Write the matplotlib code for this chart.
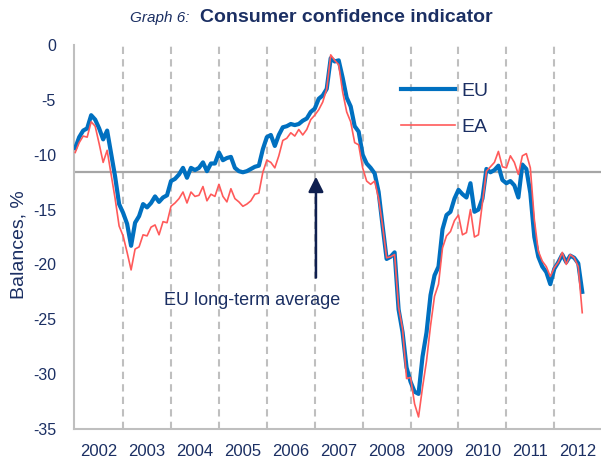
import numpy as np
import matplotlib
matplotlib.use("Agg")
import matplotlib.pyplot as plt

plt.rcParams['font.family'] = ['Liberation Sans', 'DejaVu Sans']
plt.rcParams['axes.unicode_minus'] = False

# monthly balances, Jan 2002 .. Aug 2012
years = ["2002", "2003", "2004", "2005", "2006", "2007",
         "2008", "2009", "2010", "2011", "2012"]

eu = [-9.4, -8.4, -7.8, -7.6, -6.4, -6.8, -7.6, -8.6, -7.8, -9.9, -12.0, -14.5,
      -15.3, -16.3, -18.3, -16.2, -15.6, -14.5, -14.8, -14.4, -13.8, -14.3, -13.9, -13.7,
      -12.4, -12.2, -11.8, -11.2, -12.1, -11.2, -11.4, -11.2, -10.7, -11.5, -10.8, -10.8,
      -9.8, -10.5, -10.3, -10.2, -11.2, -11.5, -11.6, -11.5, -11.3, -11.1, -11.0, -9.5,
      -8.4, -8.2, -9.2, -8.2, -7.5, -7.4, -7.2, -7.3, -7.2, -6.9, -6.7, -6.1,
      -5.8, -4.9, -4.6, -4.0, -1.2, -1.5, -1.4, -3.0, -4.8, -5.6, -7.4, -7.9,
      -10.0, -10.8, -11.2, -11.7, -13.4, -16.5, -19.5, -19.3, -18.9, -24.1, -26.2, -29.4,
      -30.7, -31.6, -31.8, -28.4, -26.2, -22.8, -21.0, -20.2, -16.8, -15.5, -15.2, -14.0,
      -13.2, -13.6, -13.9, -12.6, -15.2, -15.0, -14.0, -11.3, -11.6, -11.4, -11.0, -12.3,
      -12.6, -12.4, -12.8, -13.9, -10.9, -11.3, -13.5, -17.5, -19.3, -20.2, -20.7, -21.8,
      -20.4, -19.8, -19.1, -19.8, -19.2, -19.4, -19.9, -22.5]

ea = [-9.8, -8.9, -8.3, -8.4, -7.0, -7.4, -9.0, -10.7, -9.6, -11.8, -14.0, -16.5,
      -17.4, -18.9, -20.5, -18.6, -18.4, -17.3, -17.4, -16.6, -16.4, -17.3, -16.1, -16.2,
      -14.7, -14.4, -14.0, -13.4, -14.4, -13.4, -13.8, -13.7, -12.9, -14.2, -13.6, -13.8,
      -12.7, -13.8, -14.3, -13.1, -14.0, -14.3, -14.7, -14.5, -14.2, -13.6, -13.5, -11.6,
      -10.5, -10.7, -11.2, -10.1, -8.7, -8.5, -8.0, -8.3, -7.7, -8.2, -7.7, -6.8,
      -6.4, -5.9, -5.2, -4.0, -0.9, -1.4, -1.8, -4.3, -6.1, -7.0, -8.9, -9.1,
      -11.2, -12.4, -12.7, -12.4, -14.0, -16.5, -19.4, -19.3, -19.1, -23.9, -25.9, -30.4,
      -30.3, -32.7, -33.9, -31.2, -28.8, -25.6, -22.9, -21.8, -18.5, -17.4, -17.0, -16.0,
      -15.5, -17.3, -17.1, -15.0, -17.5, -17.3, -14.4, -11.5, -11.1, -10.7, -9.7, -11.1,
      -11.2, -10.1, -10.7, -11.8, -10.1, -9.9, -11.2, -15.9, -18.8, -19.7, -20.2, -21.1,
      -20.3, -19.8, -18.9, -20.0, -19.1, -19.4, -20.2, -24.4]

lt_avg = -11.6

navy = "#1B2F63"
months = np.arange(len(eu))

fig = plt.figure(figsize=(6.01, 4.65), dpi=100)
ax = fig.add_axes([74 / 601, 1 - 429 / 465, 527 / 601, 384 / 465])

# year separators
for k in range(1, len(years) + 1):
    ax.axvline(12 * k, color="#BFBFBF", lw=1.5, ls=(0, (3.5, 2.5)), zorder=1)

ax.axhline(lt_avg, color="#A6A6A6", lw=1.6, zorder=2)

ax.plot(months, eu, color="#0070C0", lw=3.0, label="EU", zorder=3,
        solid_joinstyle="round")
ax.plot(months, ea, color="#FF5A5A", lw=1.2, label="EA", zorder=4)

ax.annotate("", xy=(60.3, -12.0), xytext=(60.3, -21.2),
            arrowprops=dict(arrowstyle="-|>,head_length=0.9,head_width=0.45",
                            color="#0F1F4F", lw=1.8, shrinkA=0, shrinkB=0),
            zorder=5)
ax.text(44.3, -23.3, "EU long-term average", ha="center", va="center",
        fontsize=13, color=navy)

ax.set_xlim(-0.3, 131.7)
ax.set_ylim(-35, 0)
ax.set_yticks(np.arange(-35, 1, 5))
ax.set_xticks([6 + 12 * i for i in range(len(years))])
ax.set_xticklabels(years)
ax.tick_params(axis="x", length=0, pad=11, labelsize=12, labelcolor=navy)
ax.tick_params(axis="y", length=0, pad=13, labelsize=11.5, labelcolor=navy)

for s in ["top", "right"]:
    ax.spines[s].set_visible(False)
for s in ["left", "bottom"]:
    ax.spines[s].set_color("#BFBFBF")
    ax.spines[s].set_linewidth(1.5)

ax.set_ylabel("Balances, %", fontsize=14, color=navy)
ax.yaxis.set_label_coords(-0.089, 0.48)

leg = ax.legend(loc="upper left", bbox_to_anchor=(0.602, 0.928), frameon=False,
                fontsize=14, handlelength=2.8, handletextpad=0.3,
                labelspacing=0.95, borderpad=0)
for t in leg.get_texts():
    t.set_color(navy)

fig.text(0.316, 0.962, "Graph 6:", fontsize=11, style="italic", color=navy,
         ha="right", va="center")
fig.text(0.333, 0.962, "Consumer confidence indicator", fontsize=14,
         fontweight="bold", color=navy, ha="left", va="center")

fig.savefig("out.png", dpi=100)
